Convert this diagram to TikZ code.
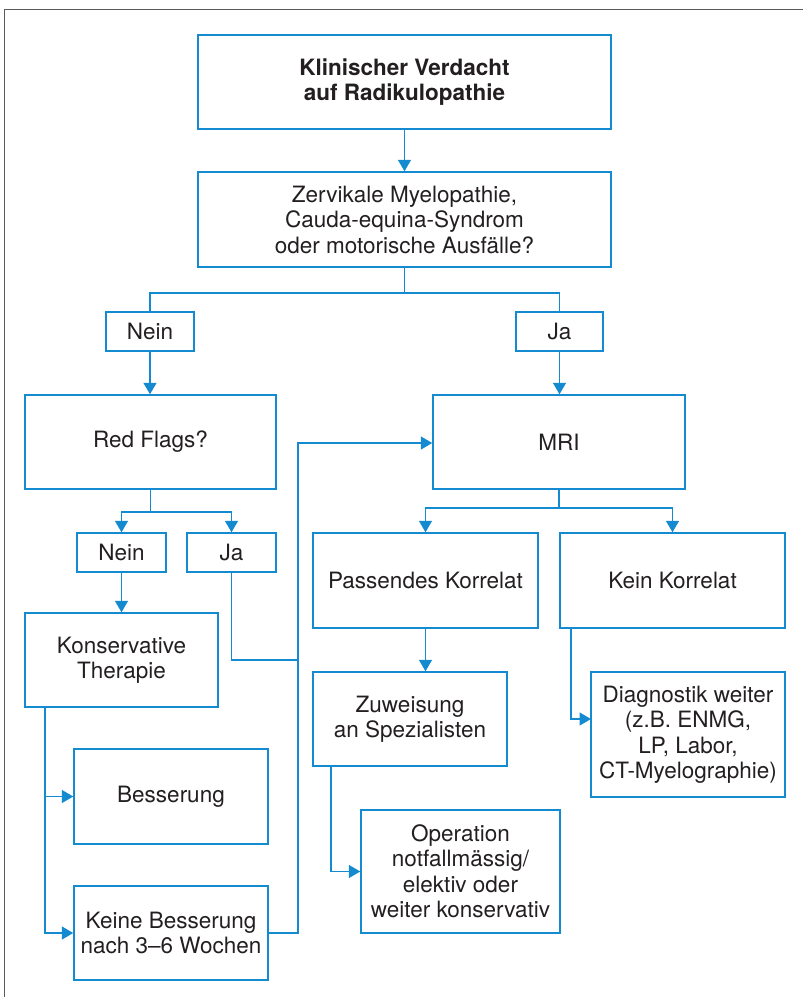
\documentclass[tikz,border=0pt]{standalone}
\usepackage{fontspec}
\setmainfont{TeX Gyre Heros}
\usetikzlibrary{arrows.meta}
\definecolor{fblue}{RGB}{20,138,208}
\definecolor{ftext}{RGB}{35,31,32}
\definecolor{fframe}{RGB}{90,90,90}
\tikzset{
  fbox/.style={draw=fblue, line width=1.5pt, rectangle, inner sep=0pt, align=center,
    text=ftext, font=\fontsize{22.5}{25.5}\selectfont},
  conn/.style={draw=fblue, line width=1.6pt},
  arr/.style={conn, -{Triangle[length=11.5pt,width=13pt]}},
}
\begin{document}
\begin{tikzpicture}[x=1pt,y=-1pt]
\useasboundingbox (0,0) rectangle (803,997);
\draw[fframe, line width=1.6pt] (4.5,997) -- (4.5,9.5) -- (803,9.5);

\node[fbox, minimum width=413pt, minimum height=94pt] (b1) at (404.5,82) {\bfseries Klinischer Verdacht\\\bfseries auf Radikulopathie};
\node[fbox, minimum width=413pt, minimum height=95pt] (b2) at (404.5,219.5) {Zervikale Myelopathie,\\Cauda-equina-Syndrom\\oder motorische Ausfälle?};
\node[fbox, minimum width=88pt, minimum height=39pt] (nein1) at (150,331.5) {Nein};
\node[fbox, minimum width=87pt, minimum height=39pt] (ja1) at (559.5,331.5) {Ja};
\node[fbox, minimum width=251pt, minimum height=94pt] (red) at (150.5,442) {Red Flags?};
\node[fbox, minimum width=252pt, minimum height=94pt] (mri) at (559,442) {MRI};
\node[fbox, minimum width=89pt, minimum height=39pt] (nein2) at (121.5,552.5) {Nein};
\node[fbox, minimum width=89pt, minimum height=39pt] (ja2) at (231.5,552.5) {Ja};
\node[fbox, minimum width=193pt, minimum height=94pt] (kons) at (121.5,660) {Konservative\\Therapie};
\node[fbox, minimum width=225pt, minimum height=95pt] (pass) at (425.5,580.5) {Passendes Korrelat};
\node[fbox, minimum width=225pt, minimum height=95pt] (kein) at (672.5,580.5) {Kein Korrelat};
\node[fbox, minimum width=194pt, minimum height=94pt] (zuw) at (410,719) {Zuweisung\\an Spezialisten};
\node[fbox, minimum width=194pt, minimum height=125pt] (diag) at (688,734.5) {Diagnostik weiter\\(z.B. ENMG,\\LP, Labor,\\CT-Myelographie)};
\node[fbox, minimum width=194pt, minimum height=95pt] (bess) at (171,796.5) {Besserung};
\node[fbox, minimum width=194pt, minimum height=94pt] (keine) at (171,933) {Keine Besserung\\nach 3–6 Wochen};
\node[fbox, minimum width=199pt, minimum height=123pt] (op) at (460.5,871.5) {Operation\\notfallmässig/\\elektiv oder\\weiter konservativ};

% junction coordinates
\coordinate (j1) at (404.5,293);
\coordinate (j2) at (150.5,512);
\coordinate (j3) at (559,508);
\coordinate (c1) at (298,933);
\coordinate (c2) at (298,443);
\coordinate (c3) at (298,660);
\coordinate (k0) at (45,707);
\coordinate (z0) at (331,766);
\coordinate (kd) at (571,628);
\coordinate (d1) at (591,719);

\draw[arr] (b1.south) -- (b2.north);
\draw[conn] (b2.south) -- (j1);
\draw[conn] (nein1.north) |- (j1) -| (ja1.north);
\draw[arr] (nein1.south) -- (nein1.south |- red.north);
\draw[arr] (ja1.south) -- (ja1.south |- mri.north);
\draw[conn] (red.south) -- (j2);
\draw[arr] (j2) -| (nein2.north);
\draw[arr] (j2) -| (ja2.north);
\draw[conn] (mri.south) -- (j3);
\draw[arr] (j3) -| (pass.north);
\draw[arr] (j3) -| (kein.north);
\draw[arr] (nein2.south) -- (kons.north);
\draw[conn] (ja2.south) |- (c3);
\draw[arr] (keine.east) -- (c1) -- (c2) -- (mri.west |- c2);
\draw[arr] (k0) |- (bess.west);
\draw[arr] (k0) |- (keine.west);
\draw[arr] (pass.south) -- (pass.south |- zuw.north);
\draw[arr] (z0) |- (op.west);
\draw[arr] (kd) |- (d1);
\end{tikzpicture}
\end{document}
